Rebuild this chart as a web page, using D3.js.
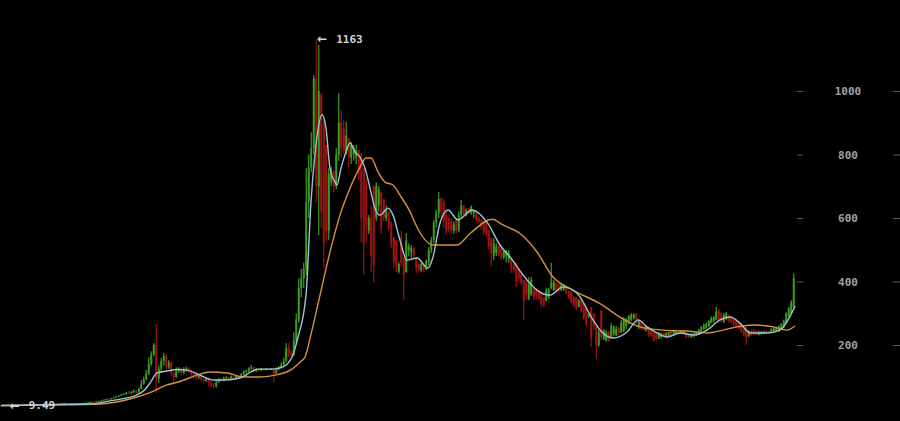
<!DOCTYPE html>
<html>
<head>
<meta charset="utf-8">
<script src="https://cdn.jsdelivr.net/npm/d3@7"></script>
<style>
  html, body { margin: 0; padding: 0; background: #000; overflow: hidden; }
  svg { display: block; }
</style>
</head>
<body>
<svg id="chart" width="900" height="421"></svg>
<script>
// Price axis ticks (USD)
const priceTicks = [200, 400, 600, 800, 1000];

// Candles: [open, high, low, close], oldest first
const ohlc = [
  [9.7,10.2,9.6,10.0],[10.0,10.3,9.7,9.8],[9.8,10.0,9.55,9.6],[9.6,10.4,9.49,10.2],[10.2,11.0,10.0,10.8],
  [10.8,11.6,10.6,11.4],[11.4,12.6,11.2,12.2],[12.2,12.4,10.8,11.0],[11.0,11.4,10.2,10.6],[10.6,11.3,10.3,11.1],
  [11.1,11.9,11.0,11.7],[11.7,12.3,11.5,12.1],[12.1,12.6,11.9,12.4],[12.4,12.8,12.1,12.3],[12.3,12.9,12.2,12.7],
  [12.7,13.2,12.5,13.0],[13.0,13.4,12.4,12.6],[12.6,13.1,12.4,12.9],[12.9,13.6,12.8,13.4],[13.4,13.9,13.1,13.7],
  [13.7,14.2,13.3,13.5],[13.5,14.0,13.2,13.8],[13.8,14.6,13.6,14.4],[14.4,15.2,14.2,15.0],[15.0,16.0,14.8,15.8],
  [15.8,18.0,15.5,17.5],[17.5,18.5,15.0,15.6],[15.6,16.2,14.5,15.0],[15.0,15.8,14.8,15.5],[15.5,16.0,15.2,15.8],
  [15.8,16.4,15.6,16.2],[16.2,17.0,16.0,16.8],[16.8,17.5,16.6,17.3],[17.3,18.0,17.0,17.8],[17.8,19.0,17.6,18.8],
  [18.8,20.0,18.5,19.8],[19.8,21.5,19.5,21.2],[21.2,22.0,20.0,20.5],[20.5,22.5,20.2,22.2],[22.2,24.0,21.8,23.5],
  [23.5,26.0,23.0,25.5],[25.5,28.0,25.0,27.5],[27.5,30.5,26.5,30.0],[30.0,32.0,28.0,29.0],[29.0,33.0,28.5,32.5],
  [32.5,36.0,32.0,35.0],[35.0,40.0,34.0,38.5],[38.5,42.0,37.0,41.0],[41.0,46.0,40.0,44.5],[44.5,48.0,42.0,46.0],
  [46,52,44,50],[50,55,47,48],[48,55,45,52],[52,60,48,56],[56,58,46,50],
  [50,66,48,62],[62,90,60,78],[78,100,75,92],[92,122,88,110],[110,162,105,140],
  [140,180,135,170],[170,206,165,200],[200,266,50,95],[95,135,80,125],[125,160,115,150],
  [150,175,135,165],[165,172,120,130],[130,153,125,145],[145,148,100,110],[110,115,85,100],
  [100,130,95,118],[118,130,112,125],[125,128,105,112],[112,130,108,122],[122,132,115,126],
  [126,130,112,118],[118,121,100,110],[110,114,96,104],[104,108,90,97],[97,108,92,103],
  [103,106,86,92],[92,96,82,86],[86,100,84,95],[95,98,70,82],[82,86,66,72],
  [72,80,64,70],[70,90,66,84],[84,96,80,92],[92,98,84,88],[88,100,85,95],
  [95,102,92,98],[98,100,90,94],[94,104,92,100],[100,102,92,96],[96,106,94,102],
  [102,104,94,98],[98,112,96,108],[108,121,104,116],[116,122,110,118],[118,130,114,126],
  [126,137,122,130],[130,132,115,118],[118,127,115,124],[124,126,117,120],[120,128,118,125],
  [125,127,120,122],[122,128,120,126],[126,127,120,123],[123,128,121,126],[126,128,83,112],
  [112,130,108,124],[124,134,120,130],[130,146,126,138],[138,160,134,150],[150,206,146,190],
  [190,206,162,175],[175,185,160,168],[168,240,165,215],[215,300,205,280],[280,410,270,380],
  [380,440,350,410],[410,460,380,440],[440,757,420,650],[650,800,600,760],[760,870,745,820],
  [820,1050,800,1040],[1040,1163,650,700],[700,1145,546,1000],[990,993,568,620],[900,915,442,520],
  [830,830,524,560],[560,757,530,740],[712,760,700,745],[745,750,680,700],[700,820,690,800],
  [800,993,780,900],[900,940,790,820],[880,910,800,810],[810,902,800,860],[850,852,760,790],
  [790,840,770,830],[800,830,780,820],[790,830,770,815],[814,814,720,740],[800,805,524,600],
  [757,757,420,520],[700,720,524,580],[560,609,550,600],[600,640,430,480],[700,700,398,450],
  [600,713,590,700],[640,700,620,690],[681,681,550,570],[660,660,590,600],[600,640,590,625],
  [620,620,560,570],[587,587,505,520],[540,540,442,460],[530,530,430,450],[430,461,425,455],
  [540,560,445,460],[477,477,341,420],[430,553,427,530],[500,520,480,510],[490,515,470,505],
  [505,510,470,480],[477,477,427,440],[455,460,427,435],[435,460,430,455],[455,458,428,438],
  [438,470,436,465],[460,509,450,500],[500,540,490,530],[530,594,520,585],[585,625,570,615],
  [615,682,600,660],[663,665,603,620],[650,660,570,590],[610,620,548,560],[600,610,555,565],
  [590,600,550,560],[560,590,550,580],[593,593,551,560],[560,620,555,610],[610,657,600,640],
  [641,641,603,610],[610,630,605,625],[630,632,612,615],[615,640,610,635],[615,625,600,622],
  [615,620,590,595],[600,605,584,588],[594,594,562,570],[585,590,545,555],[590,590,540,550],
  [562,562,500,510],[537,537,446,490],[480,537,467,520],[490,520,480,510],[510,515,480,485],
  [505,509,468,475],[475,500,470,495],[480,500,460,495],[470,500,459,490],[468,468,427,440],
  [450,455,427,435],[459,459,383,400],[440,440,400,410],[420,425,390,395],[405,405,279,340],
  [400,414,341,360],[345,414,341,400],[360,414,355,405],[380,380,341,350],[378,380,341,355],
  [370,370,341,345],[363,363,319,330],[350,352,319,325],[340,380,338,372],[350,380,345,375],
  [380,459,375,395],[373,405,370,398],[395,397,365,372],[390,395,365,370],[373,395,370,390],
  [375,392,370,388],[380,382,360,362],[370,372,345,350],[370,370,330,335],[350,355,320,325],
  [351,351,310,315],[320,345,318,340],[341,341,301,305],[332,332,279,285],[320,320,257,265],
  [290,300,285,298],[320,320,194,220],[301,301,247,260],[260,262,155,200],[200,247,194,240],
  [310,310,216,225],[220,250,215,245],[215,247,210,240],[240,245,210,215],[225,269,225,260],
  [235,262,228,255],[230,260,228,250],[255,258,230,238],[240,280,238,270],[245,288,240,280],
  [260,285,250,280],[270,295,265,290],[280,301,275,295],[285,300,280,295],[300,300,265,270],
  [260,280,250,275],[270,272,248,252],[260,260,245,248],[245,260,243,258],[255,255,225,230],
  [247,247,225,228],[240,242,210,215],[235,240,212,220],[220,240,218,236],[225,240,220,235],
  [238,240,225,228],[226,240,225,238],[230,242,228,240],[245,247,232,235],[236,247,235,245],
  [238,247,236,244],[246,247,235,237],[236,246,234,244],[238,247,235,245],[240,241,222,225],
  [235,238,222,226],[225,238,222,235],[228,240,225,238],[232,242,228,240],[236,250,234,248],
  [242,260,240,256],[250,268,248,262],[255,270,250,265],[260,279,257,276],[270,290,268,285],
  [275,292,270,288],[280,320,279,305],[310,312,270,278],[300,302,272,280],[272,300,270,295],
  [282,304,279,300],[295,296,270,275],[288,290,268,272],[280,282,260,265],[275,276,255,258],
  [270,272,250,252],[265,269,238,242],[250,252,228,232],[255,257,200,222],[228,247,225,244],
  [245,250,228,232],[248,250,230,235],[245,247,230,234],[232,245,230,242],[235,245,233,241],
  [236,245,235,243],[245,246,238,240],[244,245,236,238],[240,252,238,250],[242,255,240,252],
  [245,258,242,255],[245,262,241,258],[252,269,250,266],[256,280,255,276],[270,304,268,298],
  [290,320,288,315],[300,341,298,335],[320,425,318,410]
];

// Short moving average: [candle index, price]
const fastAverage = [
  [0,9.6],[11.5,11],[23.5,12.8],[35.5,14],[43.5,24],[49.5,32],[52.7,38],[57.5,60],[59.5,80],
  [62.3,112],[66.3,118],[70.3,123],[74.3,121],[79.5,105],[84.7,90],[89.5,90],[95.5,96],
  [102.7,124],[108.3,124],[112.7,131],[116.3,162],[118.7,225],[121.9,357],[123.9,650],
  [125.9,830],[128.3,925],[129.9,883],[131.5,757],[133.5,713],[134.3,704],[135.9,757],
  [137.9,808],[139.5,836],[141.5,808],[143.5,792],[145.5,757],[147.5,694],[149.5,631],
  [151.5,609],[154.7,631],[156.7,609],[159.5,530],[162.3,467],[166.3,474],[170.7,442],
  [172.7,477],[175.5,584],[178.7,625],[182.7,594],[188.3,625],[194.3,587],[199.5,515],
  [203.5,477],[210.3,405],[214.3,373],[219.5,357],[224.7,383],[230.3,363],[236.7,279],
  [239.5,247],[244.7,222],[250.3,241],[254.7,279],[258.3,257],[262.3,238],[266.3,225],
  [271.5,238],[276.7,231],[282.3,247],[287.5,279],[291.5,288],[295.5,269],[299.5,238],
  [306.3,238],[311.5,247],[315.5,290],[317.5,322]
];

// Long moving average: [candle index, price]
const slowAverage = [
  [0,9.5],[19.5,11],[39.5,14],[51.5,30],[59.5,50],[65.5,72],[71.5,85],[78.3,105],[83.5,115],
  [90.3,112],[96.3,100],[102.7,99],[109.5,105],[116.3,124],[119.5,146],[121.5,162],
  [124.3,247],[127.5,357],[131.5,493],[135.5,609],[139.5,694],[143.5,760],[145.9,789],
  [147.9,789],[150.7,745],[153.5,713],[156.7,704],[159.5,672],[163.5,620],[166.3,571],
  [172.7,515],[182.3,515],[187.5,551],[196.3,596],[200.7,578],[207.5,551],[214.3,493],
  [220.7,414],[228.7,373],[239.5,330],[247.5,288],[255.5,257],[264.7,247],[274.3,244],
  [282.3,238],[288.7,247],[294.3,257],[300.7,263],[308.7,257],[314.3,247],[317.5,260]
];

const colors = {
  up: "#3c9c22",
  down: "#a01111",
  fast: "#9fc3d6",
  slow: "#d8913c",
  tick: "#5a5a5a",
  tickText: "#a0a0a0",
  note: "#d2d2d2"
};

const svg = d3.select("#chart");
svg.append("rect").attr("width", 900).attr("height", 421).attr("fill", "#000");

const x = d3.scaleLinear().domain([0, ohlc.length - 1]).range([1.25, 793.75]);
const y = d3.scaleLinear().domain([0, 1000]).range([408.5, 91]);

// Candles
const candles = svg.append("g").attr("class", "candles")
  .selectAll("g").data(ohlc).join("g")
  .attr("fill", d => d[3] >= d[0] ? colors.up : colors.down);

candles.append("rect")
  .attr("x", (d, i) => x(i) - 0.6)
  .attr("width", 1.2)
  .attr("y", d => y(d[1]))
  .attr("height", d => Math.max(1, y(d[2]) - y(d[1])));

candles.append("rect")
  .attr("x", (d, i) => x(i) - 1)
  .attr("width", 2)
  .attr("y", d => y(Math.max(d[0], d[3])))
  .attr("height", d => Math.max(1, Math.abs(y(d[0]) - y(d[3]))));

// Moving averages
const line = d3.line()
  .x(d => x(d[0]))
  .y(d => y(d[1]))
  .curve(d3.curveMonotoneX);

svg.append("path").datum(slowAverage)
  .attr("d", line).attr("fill", "none")
  .attr("stroke", colors.slow).attr("stroke-width", 1.4);

svg.append("path").datum(fastAverage)
  .attr("d", line).attr("fill", "none")
  .attr("stroke", colors.fast).attr("stroke-width", 1.4);

// Price axis on the right
const axis = d3.axisRight(y).tickValues(priceTicks).tickSize(6).tickPadding(0)
  .tickFormat(d3.format("d"));
const ax = svg.append("g").attr("transform", "translate(797,0)").call(axis);
ax.select(".domain").remove();
ax.selectAll(".tick line").attr("stroke", colors.tick);
ax.selectAll(".tick").append("line")
  .attr("x1", 96).attr("x2", 103).attr("stroke", colors.tick);
ax.selectAll(".tick text")
  .attr("x", 51)
  .attr("text-anchor", "middle")
  .attr("fill", colors.tickText)
  .style("font-family", "'DejaVu Sans Mono', monospace")
  .style("font-weight", "bold")
  .style("font-size", "11px");

// High / low markers
const hiIdx = d3.maxIndex(ohlc, d => d[1]);
const loIdx = d3.minIndex(ohlc, d => d[2]);
const notes = [
  { i: hiIdx, v: ohlc[hiIdx][1] },
  { i: loIdx, v: ohlc[loIdx][2] }
];
const noteG = svg.append("g")
  .style("font-weight", "bold")
  .attr("fill", colors.note);
notes.forEach(n => {
  noteG.append("text")
    .attr("x", x(n.i) + 1).attr("y", y(n.v)).attr("dy", "0.35em")
    .style("font-family", "'DejaVu Sans', sans-serif")
    .style("font-size", "12px")
    .text("\u2190");
  noteG.append("text")
    .attr("x", x(n.i) + 20).attr("y", y(n.v)).attr("dy", "0.35em")
    .style("font-family", "'DejaVu Sans Mono', monospace")
    .style("font-size", "11px")
    .text(String(n.v));
});
</script>
</body>
</html>
